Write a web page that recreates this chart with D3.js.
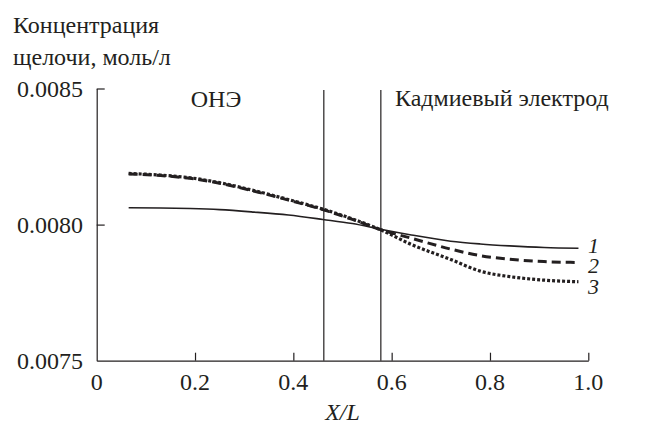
<!DOCTYPE html>
<html>
<head>
<meta charset="utf-8">
<script src="https://cdn.jsdelivr.net/npm/d3@7"></script>
<style>
  * { font-family: 'Liberation Serif', 'Times New Roman', serif !important; }
</style>
</head>
<body style="margin:0">
<script>
// x positions (X/L)
const xs = [0.065, 0.13, 0.19, 0.25, 0.32, 0.39, 0.46, 0.52, 0.58, 0.64, 0.72, 0.78, 0.84, 0.91, 0.98];
// curve 1 (solid)
const curve1 = [0.008062, 0.008061, 0.008059, 0.008055, 0.008046, 0.008035, 0.008019, 0.008004, 0.007982, 0.007962, 0.007939, 0.007929, 0.007922, 0.007916, 0.007913];
// curve 2 (dashed)
const curve2 = [0.008186, 0.008180, 0.008170, 0.008152, 0.008123, 0.008090, 0.008055, 0.008019, 0.007980, 0.007950, 0.007910, 0.007886, 0.007873, 0.007864, 0.007861];
// curve 3 (dotted)
const curve3 = [0.008188, 0.008182, 0.008172, 0.008154, 0.008125, 0.008092, 0.008057, 0.008021, 0.007979, 0.007927, 0.007872, 0.007829, 0.007809, 0.007796, 0.007790];
const curveLabels = ['1', '2', '3'];
const xTicks = [0, 0.2, 0.4, 0.6, 0.8, 1.0];
const yTicks = [0.0075, 0.0080, 0.0085];
// boundaries between zones
const boundaries = [0.462, 0.578];

const width = 646;
const height = 425;
const margin = {top: 88.5, right: 57.7, bottom: 64.3, left: 96.7};
const ink = '#231f20';

const svg = d3.select('body').append('svg')
    .attr('width', width)
    .attr('height', height);

const x = d3.scaleLinear().domain([0, 1]).range([margin.left, width - margin.right]);
const y = d3.scaleLinear().domain([0.0075, 0.0085]).range([height - margin.bottom, margin.top]);

// axes, ticks inward
const xAxis = svg.append('g')
    .attr('transform', `translate(0, ${y(0.0075)})`)
    .call(d3.axisTop(x).tickValues(xTicks).tickSize(8).tickSizeOuter(0).tickFormat(''));
const yAxis = svg.append('g')
    .attr('transform', `translate(${x(0)}, 0)`)
    .call(d3.axisRight(y).tickValues(yTicks).tickSize(8).tickSizeOuter(0).tickFormat(''));
[xAxis, yAxis].forEach((g) => {
    g.selectAll('path, line').attr('stroke', ink).attr('stroke-width', 1.2);
});
// no tick on the origin
xAxis.selectAll('.tick').filter(d => d === 0).select('line').remove();
yAxis.selectAll('.tick').filter(d => d === 0.0075).select('line').remove();

const addText = (parent, cfg) => {
    const t = parent.append('text')
        .attr('x', cfg.x)
        .attr('y', cfg.y)
        .attr('font-size', cfg.size || 24)
        .attr('font-family', 'Liberation Serif')
        .attr('fill', ink)
        .text(cfg.text);
    if (cfg.anchor) t.attr('text-anchor', cfg.anchor);
    if (cfg.italic) t.attr('font-style', 'italic');
    return t;
};

// tick labels
xTicks.forEach((d) => {
    addText(svg, {x: x(d), y: y(0.0075) + 29, anchor: 'middle', text: d === 0 ? '0' : d.toFixed(1)});
});
yTicks.forEach((d) => {
    addText(svg, {x: 83, y: y(d) + 8.5, anchor: 'end', text: d.toFixed(4)});
});

// zone boundaries
svg.append('g').selectAll('line')
    .data(boundaries)
    .join('line')
    .attr('x1', d => x(d))
    .attr('x2', d => x(d))
    .attr('y1', y(0.0085) + 1.5)
    .attr('y2', y(0.0075))
    .attr('stroke', ink)
    .attr('stroke-width', 1.2);

// curves
const line = d3.line()
    .x(d => x(d[0]))
    .y(d => y(d[1]))
    .curve(d3.curveMonotoneX);

const series = [
    {values: curve1, width: 1.6, dash: null},
    {values: curve2, width: 3, dash: '9,5'},
    {values: curve3, width: 3.2, dash: '3,2'},
];

svg.append('g').selectAll('path')
    .data(series)
    .join('path')
    .attr('d', s => line(xs.map((v, i) => [v, s.values[i]])))
    .attr('fill', 'none')
    .attr('stroke', ink)
    .attr('stroke-width', s => s.width)
    .attr('stroke-dasharray', s => s.dash);

// curve numbers
series.forEach((s, i) => {
    addText(svg, {
        x: 588,
        y: y(s.values[s.values.length - 1]) + [5, 11, 12][i],
        size: 22,
        italic: true,
        text: curveLabels[i],
    });
});

// annotations
addText(svg, {x: 216, y: 107, anchor: 'middle', text: 'ОНЭ'});
addText(svg, {x: 395, y: 106, text: 'Кадмиевый электрод'});

// axis titles
addText(svg, {x: 13, y: 33, text: 'Концентрация'});
addText(svg, {x: 13, y: 65, text: 'щелочи, моль/л'});
addText(svg, {x: x(0.5), y: 420, anchor: 'middle', italic: true, text: 'X/L'});
</script>
</body>
</html>
